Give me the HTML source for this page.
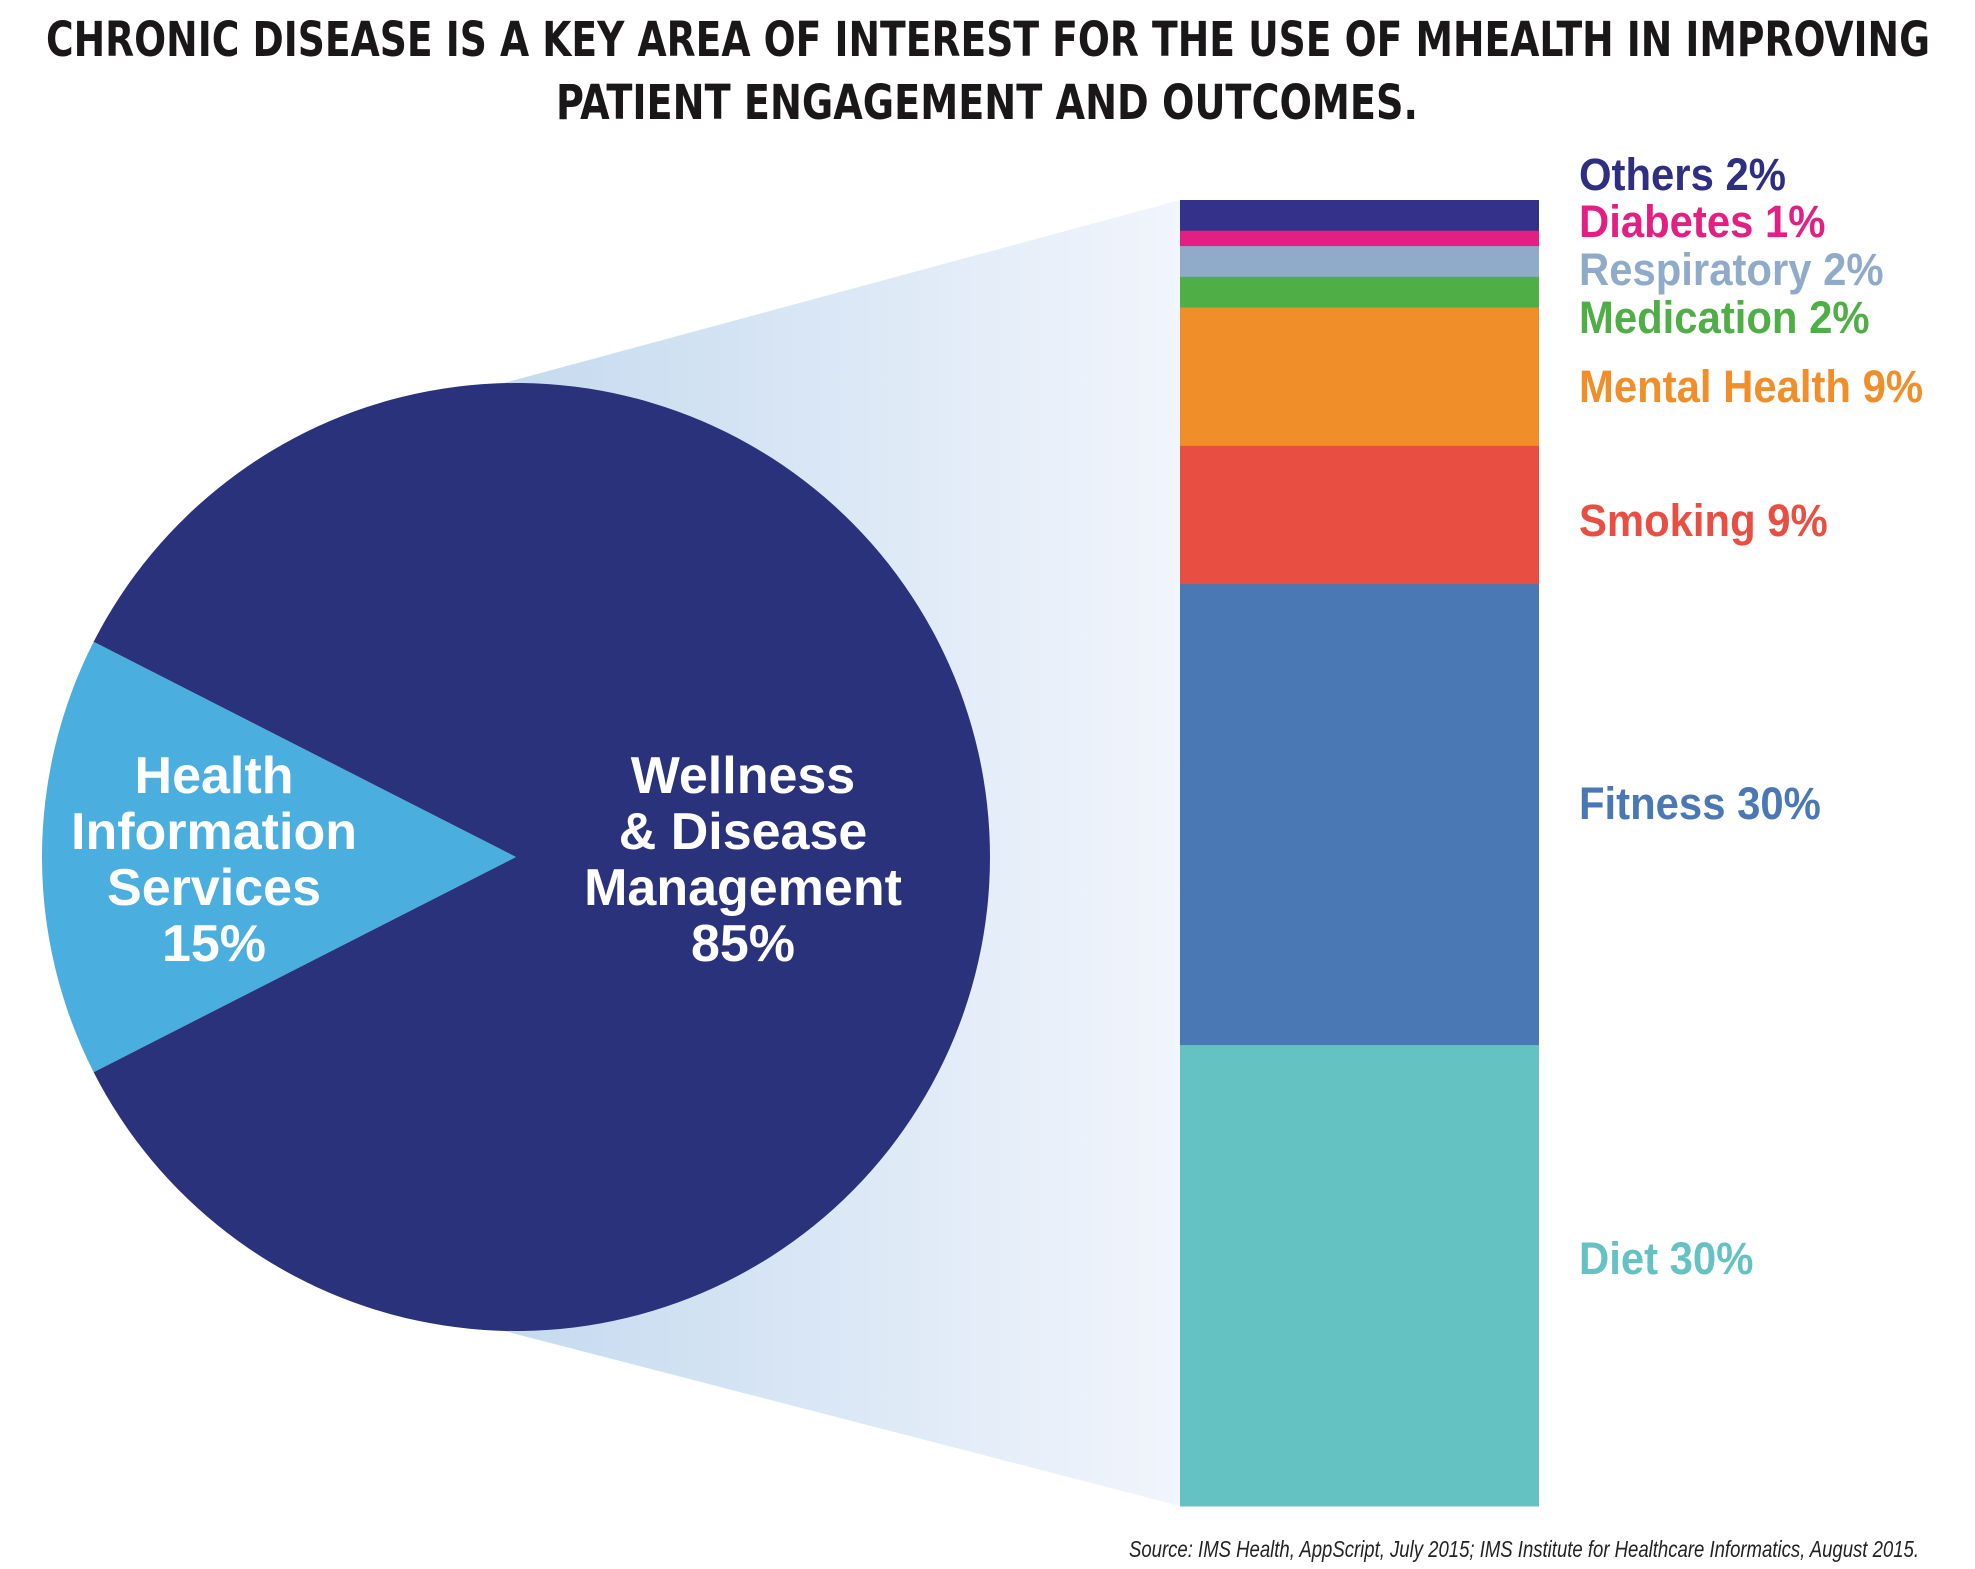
<!DOCTYPE html>
<html><head><meta charset="utf-8"><style>
html,body{margin:0;padding:0;background:#fff;}
svg{display:block;}
text{font-family:"Liberation Sans Narrow","Liberation Sans",sans-serif;}
</style></head><body>
<svg id="chart" width="1975" height="1569" viewBox="0 0 1975 1569" xmlns="http://www.w3.org/2000/svg">
<defs>
<linearGradient id="fan" x1="0" y1="0" x2="1" y2="0">
<stop offset="0" stop-color="#c5daef"/><stop offset="1" stop-color="#f1f5fc"/>
</linearGradient>
</defs>
<g>
<text x="46" y="56" textLength="1884" lengthAdjust="spacingAndGlyphs" font-size="48" font-weight="bold" fill="#1a1718" style="font-family:'DejaVu Sans Condensed','Liberation Sans Narrow',sans-serif">CHRONIC DISEASE IS A KEY AREA OF INTEREST FOR THE USE OF MHEALTH IN IMPROVING</text>
<text x="556" y="119" textLength="862" lengthAdjust="spacingAndGlyphs" font-size="48" font-weight="bold" fill="#1a1718" style="font-family:'DejaVu Sans Condensed','Liberation Sans Narrow',sans-serif">PATIENT ENGAGEMENT AND OUTCOMES.</text>
</g>
<g id="plot"></g>
<text x="1919" y="1557" text-anchor="end" textLength="790" lengthAdjust="spacingAndGlyphs" font-size="23" font-style="italic" fill="#222">Source: IMS Health, AppScript, July 2015; IMS Institute for Healthcare Informatics, August 2015.</text>
</svg>
<script>
const pieCategories = ["Health Information Services", "Wellness & Disease Management"];
const pieValues = [15, 85];
const barCategories = ["Others", "Diabetes", "Respiratory", "Medication", "Mental Health", "Smoking", "Fitness", "Diet"];
const barValues = [2, 1, 2, 2, 9, 9, 30, 30];

const NS = "http://www.w3.org/2000/svg";
const plot = document.getElementById('plot');
function mk(tag, attrs, parent) {
  const e = document.createElementNS(NS, tag);
  for (const k in attrs) e.setAttribute(k, attrs[k]);
  (parent || plot).appendChild(e);
  return e;
}
const cx = 516, cy = 857, r = 474;
const barX = 1180, barW = 359, barTop = 200, barBottom = 1506;
const barColors = ["#34318a", "#e31f84", "#8fabc9", "#50ae47", "#f08f2a", "#e84f42", "#4a78b5", "#65c2c3"];
const textColors = ["#2e2e82", "#e31f84", "#8fabc9", "#50ae47", "#f08f2a", "#e84f42", "#4a78b5", "#65c2c3"];
const barTotal = barValues.reduce((a, b) => a + b, 0);
const yScale = v => v / barTotal * (barBottom - barTop);

const fan = mk('polygon', {points: `${cx - 12},${cy - r} ${barX},${barTop} ${barX},${barBottom} ${cx - 12},${cy + r}`, fill: 'url(#fan)'});



const pieTotal = pieValues.reduce((a, b) => a + b, 0);
const pieColors = ["#4aaede", "#29327a"];
let start = Math.PI - pieValues[0] / pieTotal * Math.PI;
const pieNames = ["pie-slice-health-information", "pie-slice-wellness"];
pieValues.forEach((v, i) => {
  const a = v / pieTotal * 2 * Math.PI;
  const a0 = start, a1 = start + a;
  const x0 = cx + r * Math.cos(a0), y0 = cy + r * Math.sin(a0);
  const x1 = cx + r * Math.cos(a1), y1 = cy + r * Math.sin(a1);
  const large = a > Math.PI ? 1 : 0;
  const p = mk('path', {d: `M${cx},${cy} L${x0},${y0} A${r},${r} 0 ${large} 1 ${x1},${y1} Z`, fill: pieColors[i]});
  
  
  start = a1;
});
function multiLabel(lines, x, y0, name) {
  const t = mk('text', {x: x, y: y0, 'text-anchor': 'middle', 'font-size': 52, 'font-weight': 'bold', fill: '#fff'});
  
  
  lines.forEach((l, i) => {
    const s = mk('tspan', {x: x, dy: i === 0 ? 0 : 56}, t);
    s.textContent = l;
  });
}
multiLabel(["Health", "Information", "Services", pieValues[0] + "%"], 214, 793, 'pie-label-health-information');
multiLabel(["Wellness", "& Disease", "Management", pieValues[1] + "%"], 743, 793, 'pie-label-wellness');

let y = barTop;
const labelY = [174, 221, 269, 317, 386, 520, 803, 1258];
barValues.forEach((v, i) => {
  const h = yScale(v);
  const rc = mk('rect', {x: barX, y: y, width: barW, height: h + 0.5, fill: barColors[i]});
  
  
  y += h;
  const t = mk('text', {x: 0, y: 0, 'font-size': 45, 'font-weight': 'bold', fill: textColors[i], transform: `translate(1579,${labelY[i] + 16}) scale(0.93,1)`});
  t.textContent = barCategories[i] + " " + v + "%";
  
  
});
</script>
</body></html>
